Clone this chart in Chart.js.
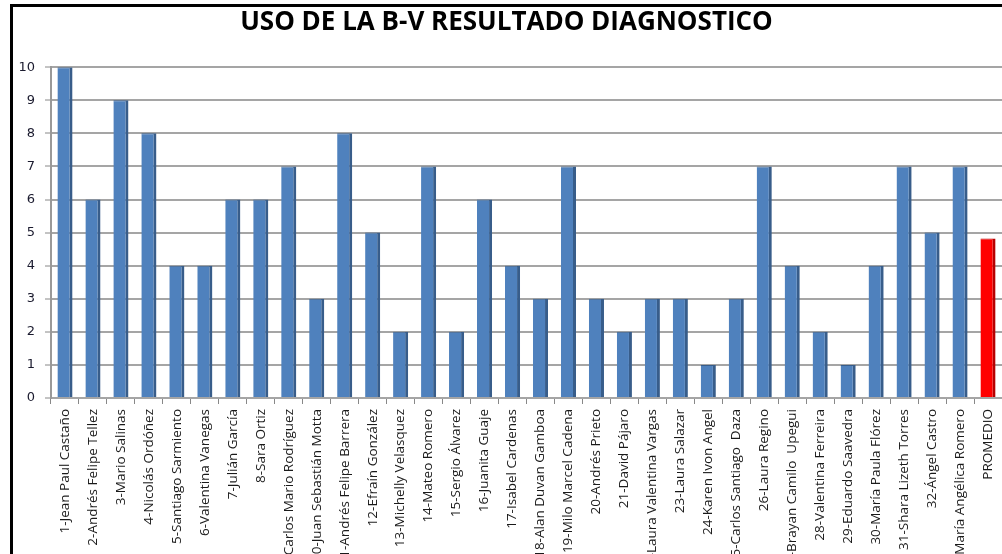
<!DOCTYPE html>
<html>
<head>
<meta charset="utf-8">
<script src="https://cdn.jsdelivr.net/npm/chart.js@4.4.1/dist/chart.umd.min.js"></script>
<style>
  html, body { margin: 0; padding: 0; background: #fff; overflow: hidden; }
  #wrap { width: 1002px; height: 554px; }
</style>
</head>
<body>
<div id="wrap"><canvas id="c" width="1002" height="554"></canvas></div>
<script>
const categories = [
  "1-Jean Paul Castaño", "2-Andrés Felipe Tellez", "3-Mario Salinas", "4-Nicolás Ordóñez",
  "5-Santiago Sarmiento", "6-Valentina Vanegas", "7-Julián García", "8-Sara Ortiz",
  "9-Carlos Mario Rodríguez", "10-Juan Sebastián Motta", "11-Andrés Felipe Barrera",
  "12-Efraín González", "13-Michelly Velasquez", "14-Mateo Romero", "15-Sergio Álvarez",
  "16-Juanita Guaje", "17-Isabel Cardenas", "18-Alan Duvan Gamboa", "19-Milo Marcel Cadena",
  "20-Andrés Prieto", "21-David Pájaro", "22-Laura Valentina Vargas", "23-Laura Salazar",
  "24-Karen Ivon Angel", "25-Carlos Santiago  Daza", "26-Laura Regino",
  "27-Brayan Camilo  Upegui", "28-Valentina Ferreira", "29-Eduardo Saavedra",
  "30-María Paula Flórez", "31-Shara Lizeth Torres", "32-Ángel Castro",
  "33-María Angélica Romero", "PROMEDIO"
];
const values = [10, 6, 9, 8, 4, 4, 6, 6, 7, 3, 8, 5, 2, 7, 2, 6, 4, 3, 7, 3, 2, 3, 3, 1, 3, 7, 4, 2, 1, 4, 7, 5, 7, 4.82];
const yTicks = [0, 1, 2, 3, 4, 5, 6, 7, 8, 9, 10];
const titleText = "USO DE LA B-V RESULTADO DIAGNOSTICO";

const frontColors = categories.map(c => c === "PROMEDIO" ? "#FF0000" : "#4F81BD");
const sideColors = categories.map(c => c === "PROMEDIO" ? "#B80000" : "#385D8A");

const framePlugin = {
  id: 'frame',
  afterDraw(chart) {
    const ctx = chart.ctx;
    ctx.save();
    ctx.strokeStyle = '#000';
    ctx.lineWidth = 3;
    ctx.strokeRect(11.5, 5.5, chart.width + 20, chart.height + 20);
    ctx.restore();
  }
};

new Chart(document.getElementById('c'), {
  type: 'bar',
  data: {
    labels: categories,
    datasets: [{
      data: values,
      backgroundColor: frontColors,
      borderColor: sideColors,
      borderWidth: { top: 1, right: 3, left: 0, bottom: 0 },
      borderSkipped: false,
      barPercentage: 0.54,
      categoryPercentage: 1.0
    }]
  },
  options: {
    responsive: false,
    animation: false,
    devicePixelRatio: 1,
    layout: { padding: { left: 11, right: 0, top: 0, bottom: 0 } },
    plugins: {
      legend: { display: false },
      tooltip: { enabled: false },
      title: {
        display: true,
        text: titleText,
        color: '#000',
        font: { family: 'Open Sans', size: 26, weight: 'bold', lineHeight: 1.2 },
        padding: { top: 7, bottom: 29 }
      }
    },
    scales: {
      x: {
        grid: { display: true, drawOnChartArea: false, drawTicks: true, tickLength: 6, color: '#888', offset: true },
        border: { display: false },
        ticks: {
          autoSkip: false,
          maxRotation: 90,
          minRotation: 90,
          color: '#1a1a1a',
          padding: 5,
          font: { family: 'Open Sans', size: 13.5 }
        },
        afterFit(axis) { axis.height = 156; axis.paddingLeft = 0; axis.paddingRight = 0; }
      },
      y: {
        min: 0,
        max: 10,
        afterBuildTicks(axis) { axis.ticks = yTicks.map(v => ({ value: v })); },
        grid: { color: '#A5A5A5', lineWidth: 2, tickLength: 6, tickColor: '#888', tickWidth: 1 },
        border: { display: true, color: '#999', width: 2 },
        ticks: {
          color: '#1a1a2e',
          padding: 10,
          font: { family: 'DejaVu Sans', size: 13 }
        },
        afterFit(axis) { axis.width = 40; }
      }
    }
  },
  plugins: [framePlugin]
});
</script>
</body>
</html>
